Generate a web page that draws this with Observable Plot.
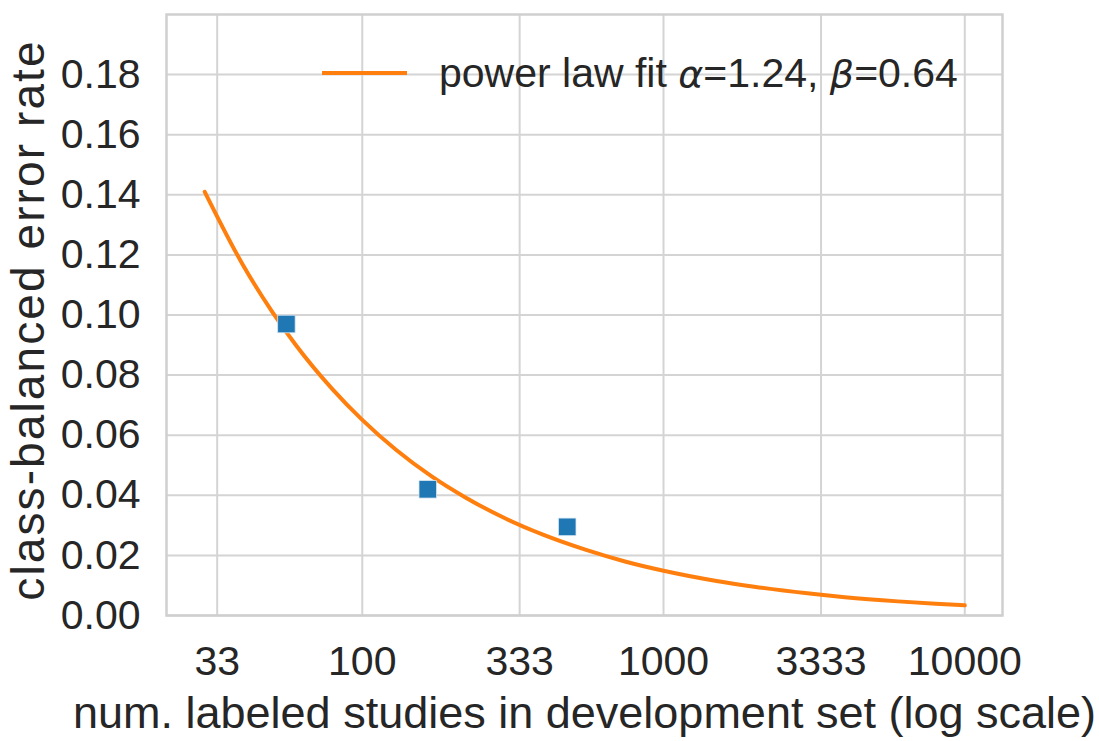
<!DOCTYPE html>
<html>
<head>
<meta charset="utf-8">
<script src="https://cdn.jsdelivr.net/npm/d3@7"></script>
<script src="https://cdn.jsdelivr.net/npm/@observablehq/plot@0.6"></script>
<style>
  html, body { margin: 0; padding: 0; background: white; overflow: hidden; }
  #wrap { position: relative; width: 1099px; height: 741px; }
  #legend {
    position: absolute; left: 322px; top: 52px; height: 42px;
    display: flex; align-items: center;
    font-family: "Liberation Sans", Arial, sans-serif; font-size: 41px; color: #262626;
    white-space: nowrap; line-height: 42px;
  }
  #legend .swatch { width: 85px; height: 4px; background: #ff7f0e; margin-right: 32px; }
  #legend i { font-family: "DejaVu Sans", sans-serif; font-style: italic; font-size: 38px; }
</style>
</head>
<body>
<div id="wrap"></div>
<script>
// ---- data ----
const xTicks = [33, 100, 333, 1000, 3333, 10000];
const yTicks = [0, 0.02, 0.04, 0.06, 0.08, 0.10, 0.12, 0.14, 0.16, 0.18];

const studies = [56, 165, 479];
const errorRate = [0.097, 0.042, 0.0295];

const fitN = [30, 40, 50, 60, 80, 100, 130, 170, 220, 300, 400, 550, 750, 1000, 1500, 2000, 3000, 4000, 6000, 8000, 10000];
const fitErr = [0.141, 0.117, 0.1014, 0.0902, 0.0751, 0.0651, 0.0550, 0.0463, 0.0393, 0.0322, 0.0268, 0.0219, 0.0179, 0.0149, 0.0115, 0.0096, 0.0074, 0.0061, 0.0047, 0.0039, 0.0034];

const xLabel = "num. labeled studies in development set (log scale)";
const yLabel = "class-balanced error rate";

// ---- tables ----
const points = studies.map((n, i) => ({n, err: errorRate[i]}));
const fit = fitN.map((n, i) => ({n, err: fitErr[i]}));

const grid = {stroke: "#d4d4d4", strokeOpacity: 1, strokeWidth: 2};

const chart = Plot.plot({
  width: 1099,
  height: 741,
  marginLeft: 166,
  marginRight: 97,
  marginTop: 14,
  marginBottom: 126,
  style: {fontFamily: "'Liberation Sans', Arial, sans-serif", color: "#262626", background: "white"},
  x: {type: "log", domain: [22.4, 13340], label: null},
  y: {domain: [0, 0.2], label: null},
  marks: [
    Plot.gridX(xTicks, grid),
    Plot.gridY(yTicks, grid),
    Plot.frame({stroke: "#cfcfcf", strokeWidth: 2.5}),
    Plot.line(fit, {x: "n", y: "err", stroke: "#ff7f0e", strokeWidth: 4, curve: "monotone-x"}),
    Plot.dot(points, {x: "n", y: "err", symbol: "square", r: 9.9, fill: "#1f77b4", stroke: "#dbe8f3", strokeWidth: 0.8}),
    Plot.axisX(xTicks, {tickSize: 0, tickPadding: 30, fontSize: 41, tickFormat: d => String(d), label: null}),
    Plot.axisY(yTicks, {tickSize: 0, tickPadding: 26, fontSize: 41, tickFormat: d3.format(".2f"), label: null}),
    Plot.text([xLabel], {text: d => d, frameAnchor: "bottom", dy: 97.6, fontSize: 45, lineAnchor: "middle", textAnchor: "middle"}),
    Plot.text([yLabel], {text: d => d, frameAnchor: "left", rotate: -90, dx: -137, dy: 5, fontSize: 46, lineAnchor: "middle", textAnchor: "middle"})
  ]
});

// slightly wider letter spacing on the y label, as in the reference
for (const t of chart.querySelectorAll("text")) {
  if (t.textContent === yLabel) t.style.letterSpacing = "2.1px";
}

const wrap = document.getElementById("wrap");
wrap.appendChild(chart);

const legend = document.createElement("div");
legend.id = "legend";
legend.innerHTML = '<span class="swatch"></span><span>power law fit <i>α</i>=1.24, <i>β</i>=0.64</span>';
wrap.appendChild(legend);
</script>
</body>
</html>
